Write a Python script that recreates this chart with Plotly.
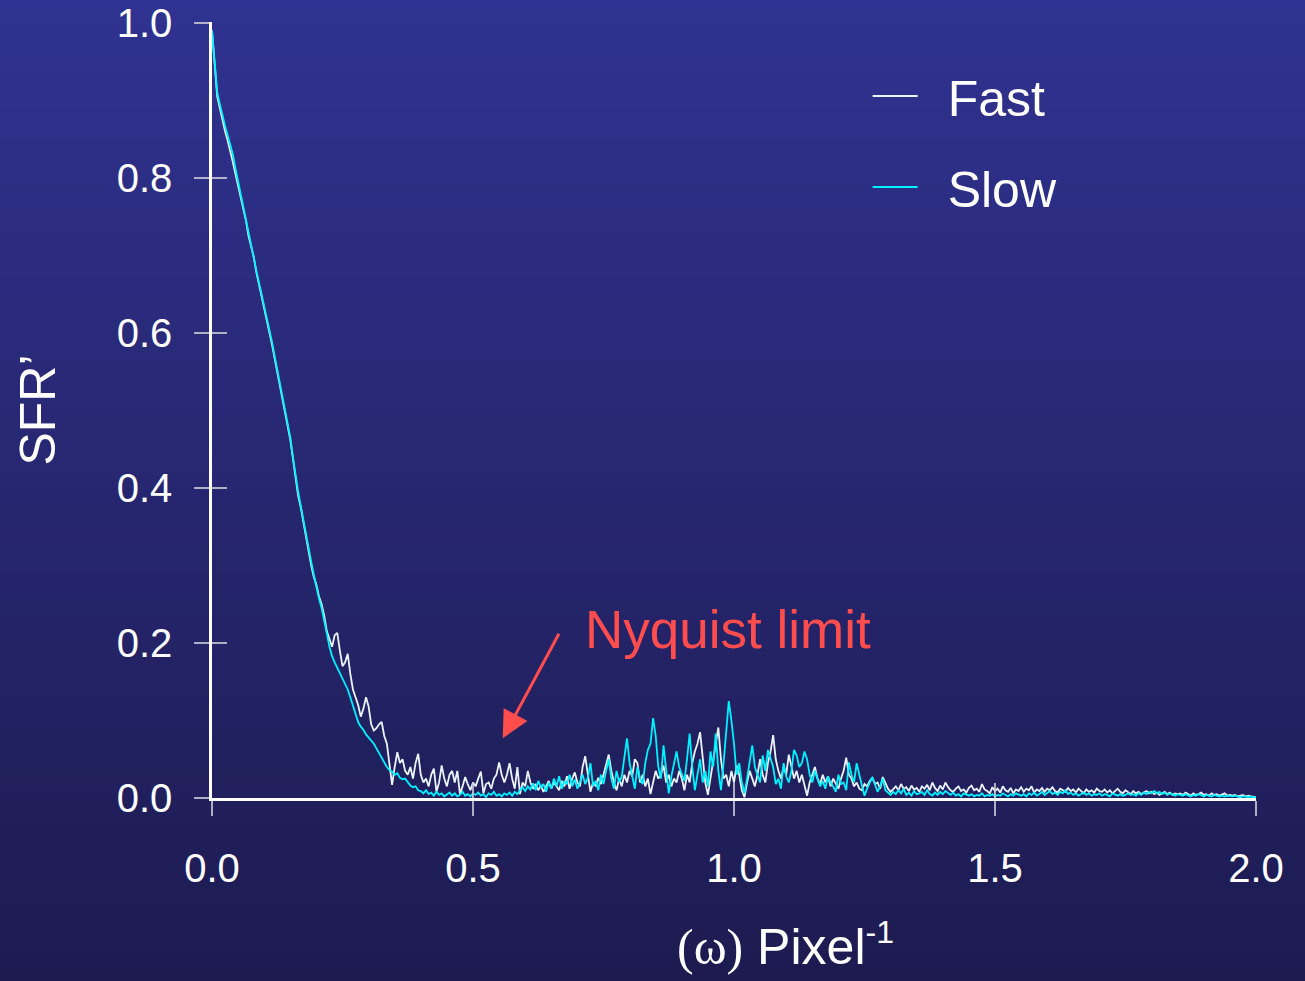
import plotly.graph_objects as go

# ---------------- data ----------------
FREQ_STEP = 0.005  # sampling step of the SFR curves, pixel^-1

series_names = ["Fast", "Slow"]

fast = [
    .99, .945, .905, .89, .873, .86, .848, .835, .82, .805,
    .79, .775, .762, .745, .725, .712, .698, .678, .663, .648,
    .633, .618, .6, .585, .567, .55, .53, .515, .497, .48,
    .462, .438, .413, .39, .375, .355, .335, .318, .3, .285,
    .275, .26, .25, .235, .215, .205, .195, .21, .213, .19,
    .17, .175, .186, .16, .14, .13, .12, .105, .115, .13,
    .118, .095, .087, .09, .095, .098, .08, .07, .045, .017,
    .04, .059, .045, .05, .035, .03, .04, .025, .045, .057,
    .03, .02, .025, .015, .03, .038, .008, .02, .042, .025,
    .015, .03, .035, .02, .035, .005, .015, .027, .018, .01,
    .02, .015, .025, .034, .006, .018, .02, .012, .025, .03,
    .046, .03, .02, .03, .045, .025, .012, .04, .005, .02,
    .015, .035, .02, .012, .018, .01, .016, .008, .015, .022,
    .012, .02, .015, .01, .022, .015, .028, .012, .025, .033,
    .02, .015, .04, .054, .03, .008, .02, .015, .026, .018,
    .03, .045, .056, .035, .02, .01, .025, .015, .03, .02,
    .035, .028, .05, .045, .02, .03, .015, .025, .005, .02,
    .035, .025, .03, .042, .02, .03, .015, .025, .02, .035,
    .025, .01, .03, .02, .045, .06, .07, .085, .05, .02,
    .004, .025, .045, .07, .091, .05, .025, .03, .015, .035,
    .02, .042, .03, .01, .001, .02, .035, .025, .015, .03,
    .05, .03, .02, .045, .06, .081, .05, .035, .025, .04,
    .03, .056, .04, .025, .035, .02, .03, .015, .003, .02,
    .03, .04, .025, .018, .03, .02, .028, .015, .025, .018,
    .012, .025, .035, .052, .03, .025, .015, .02, .012, .01,
    .018, .015, .022, .026, .018, .02, .012, .027, .02, .012,
    .008, .012, .015, .01, .018, .012, .014, .009, .016, .011,
    .013, .008, .015, .012, .017, .01, .02, .013, .009, .016,
    .011, .02, .014, .01, .008, .012, .015, .009, .011, .007,
    .013, .016, .01, .012, .008, .018, .011, .009, .006, .014,
    .009, .012, .007, .015, .01, .008, .013, .006, .011, .009,
    .014, .008, .012, .01, .015, .007, .011, .009, .013, .008,
    .012, .01, .014, .009, .007, .012, .01, .008, .013, .009,
    .011, .007, .012, .009, .006, .011, .008, .01, .007, .012,
    .009, .008, .011, .007, .01, .006, .009, .012, .008, .006,
    .01, .007, .005, .009, .006, .008, .005, .007, .009, .006,
    .008, .005, .007, .004, .006, .008, .005, .007, .004, .006,
    .005, .006, .004, .007, .005, .003, .006, .004, .005, .007,
    .004, .005, .003, .006, .004, .005, .003, .004, .006, .003,
    .004, .003, .004, .002, .003, .004, .002, .003, .002, .001,
    .001,
]

slow = [
    .99, .95, .91, .895, .88, .867, .855, .843, .83, .812,
    .795, .778, .762, .745, .727, .71, .697, .68, .665, .65,
    .635, .62, .605, .588, .57, .553, .535, .518, .50, .482,
    .465, .44, .415, .395, .377, .358, .34, .322, .305, .288,
    .27, .257, .245, .23, .212, .195, .183, .175, .168, .16,
    .153, .147, .14, .13, .12, .108, .098, .092, .088, .082,
    .078, .075, .07, .064, .058, .052, .045, .04, .036, .034,
    .03, .032, .026, .024, .025, .02, .016, .014, .015, .01,
    .009, .006, .01, .005, .007, .003, .008, .004, .006, .002,
    .005, .007, .003, .006, .002, .004, .008, .003, .005, .002,
    .006, .004, .007, .003, .005, .001, .006, .004, .008, .003,
    .005, .002, .006, .004, .007, .003, .008, .005, .01, .014,
    .009, .015, .011, .019, .01, .022, .014, .018, .008, .02,
    .012, .025, .015, .028, .012, .022, .018, .03, .015, .024,
    .012, .02, .03, .018, .026, .045, .015, .022, .01, .03,
    .018, .035, .05, .025, .012, .035, .02, .028, .055, .077,
    .045, .03, .012, .04, .025, .018, .045, .062, .07, .103,
    .08, .04, .025, .068, .035, .006, .028, .045, .06, .04,
    .03, .022, .05, .083, .04, .01, .03, .05, .02, .035,
    .015, .06, .04, .083, .035, .01, .045, .09, .125, .1,
    .07, .03, .045, .02, .006, .025, .05, .068, .04, .03,
    .02, .055, .035, .062, .05, .04, .018, .025, .012, .045,
    .028, .02, .035, .062, .055, .04, .045, .06, .05, .03,
    .02, .035, .025, .015, .022, .012, .028, .02, .015, .008,
    .03, .018, .02, .01, .046, .03, .02, .045, .03, .015,
    .003, .012, .02, .027, .018, .008, .015, .025, .01, .007,
    .004, .008, .005, .01, .006, .012, .004, .007, .003, .009,
    .005, .006, .008, .004, .01, .005, .003, .007, .004, .008,
    .005, .009, .006, .004, .007, .003, .005, .002, .006, .004,
    .003, .005, .002, .004, .003, .006, .002, .004, .003, .005,
    .002, .004, .003, .006, .004, .002, .005, .003, .006, .004,
    .003, .005, .002, .006, .004, .007, .003, .005, .008, .004,
    .006, .009, .005, .007, .004, .008, .006, .01, .005, .007,
    .004, .006, .003, .005, .007, .004, .006, .003, .005, .004,
    .006, .003, .005, .004, .002, .006, .004, .003, .005, .003,
    .004, .006, .004, .005, .003, .006, .004, .007, .005, .008,
    .006, .009, .006, .008, .005, .007, .004, .006, .005, .003,
    .005, .004, .003, .005, .004, .002, .004, .003, .005, .003,
    .002, .004, .003, .002, .004, .003, .002, .003, .002, .003,
    .002, .002, .003, .002, .001, .002, .002, .001, .002, .001,
    .001,
]

x_tick_vals = [0.0, 0.5, 1.0, 1.5, 2.0]
x_tick_text = ["0.0", "0.5", "1.0", "1.5", "2.0"]
y_tick_vals = [0.0, 0.2, 0.4, 0.6, 0.8, 1.0]
y_tick_text = ["0.0", "0.2", "0.4", "0.6", "0.8", "1.0"]

x_title = ("<span style='font-family:Liberation Serif, Times New Roman, serif'>(ω)</span>"
           " Pixel<sup><span style='font-size:32px'>-1</span></sup>")
y_title = "SFR’"
note_text = "Nyquist limit"
note_pos = (0.711, 0.218)     # where the note text starts (data units)
arrow_tip = (0.557, 0.077)    # where the arrow points (data units)

# ---------------- styling ----------------
FONT = "Liberation Sans, Arial, sans-serif"
WHITE_LINE = "#eaf4ff"
CYAN_LINE = "#00f2ff"
RED = "#ff4d4d"
TICK_COLOR = "rgba(200,200,215,0.85)"

W, H = 1305, 981
ML, MR, MT, MB = 212, 49, 22, 183
Y_TOP = 1.001

freq = [round(i * FREQ_STEP, 3) for i in range(len(slow))]
freq_fast = [round(i * FREQ_STEP, 3) for i in range(len(fast))]

fig = go.Figure()
fig.add_trace(go.Scatter(
    x=freq_fast, y=fast, mode="lines", name="\u2002" + series_names[0],
    line=dict(color=WHITE_LINE, width=1.8), legendgroup="a",
))
fig.add_trace(go.Scatter(
    x=freq, y=slow, mode="lines", name="\u2002" + series_names[1],
    line=dict(color=CYAN_LINE, width=1.8), legendgroup="b",
))
# carrier for the inner half of the crossing ticks
fig.add_trace(go.Scatter(x=[], y=[], xaxis="x2", yaxis="y2",
                         showlegend=False, hoverinfo="skip"))

# vertical background gradient built from thin bands (paper coordinates)
plot_h = H - MT - MB
plot_w = W - ML - MR
top_p = (H - MB) / plot_h
bot_p = -MB / plot_h
left_p = -ML / plot_w - 0.05
right_p = 1 + MR / plot_w + 0.05
top_rgb = (48, 50, 145)
bot_rgb = (29, 27, 80)
N = 70
shapes = []
step = (top_p - bot_p) / N
for i in range(N):
    f = (i + 0.5) / N
    c = tuple(round(top_rgb[k] + (bot_rgb[k] - top_rgb[k]) * f) for k in range(3))
    y1 = top_p - i * step + 0.002
    y0 = top_p - (i + 1) * step - 0.002
    shapes.append(dict(type="rect", xref="paper", yref="paper",
                       x0=left_p, x1=right_p, y0=y0, y1=y1,
                       line=dict(width=0), fillcolor="rgb(%d,%d,%d)" % c,
                       layer="below"))

axis_common = dict(showgrid=False, zeroline=False, tickcolor=TICK_COLOR,
                   tickwidth=1.5, ticklen=15)

legend_top_px = 57

fig.update_layout(
    width=W, height=H,
    margin=dict(l=ML, r=MR, t=MT, b=MB, autoexpand=False),
    paper_bgcolor="rgb(38,38,110)",
    plot_bgcolor="rgba(0,0,0,0)",
    font=dict(family=FONT, color="white", size=40),
    shapes=shapes,
    showlegend=True,
    legend=dict(
        x=0.628, y=1 - (legend_top_px - MT) / plot_h, xanchor="left", yanchor="top",
        bgcolor="rgba(0,0,0,0)", font=dict(size=50, color="white", family=FONT),
        traceorder="grouped", tracegroupgap=23, itemwidth=45,
    ),
    xaxis=dict(
        range=[0, 2], tickvals=x_tick_vals, ticktext=x_tick_text,
        ticks="outside", showline=True, linecolor="white", linewidth=2.5,
        tickfont=dict(size=40, color="white", family=FONT),
        ticklabelstandoff=18, ticklabeloverflow="allow", **axis_common,
    ),
    yaxis=dict(
        range=[0, Y_TOP], tickvals=y_tick_vals, ticktext=y_tick_text,
        ticks="outside", showline=True, linecolor="white", linewidth=2.5,
        tickfont=dict(size=40, color="white", family=FONT),
        ticklabelstandoff=14, ticklabeloverflow="allow",
        title=dict(text=y_title, font=dict(size=50, color="white", family=FONT),
                   standoff=46),
        **axis_common,
    ),
    xaxis2=dict(
        range=[0, 2], tickvals=x_tick_vals, overlaying="x", anchor="y",
        side="bottom", ticks="inside", showticklabels=False, showline=False,
        **axis_common,
    ),
    yaxis2=dict(
        range=[0, Y_TOP], tickvals=y_tick_vals, overlaying="y", anchor="x",
        side="left", ticks="inside", showticklabels=False, showline=False,
        **axis_common,
    ),
    annotations=[
        dict(text=x_title, xref="paper", yref="paper",
             x=(785 - ML) / plot_w, y=-(944 - (H - MB)) / plot_h,
             xanchor="center", yanchor="middle", showarrow=False,
             font=dict(size=50, color="white", family=FONT)),
        dict(text=note_text, xref="x", yref="y", x=note_pos[0], y=note_pos[1],
             xanchor="left", yanchor="middle", showarrow=False,
             font=dict(size=53, color=RED, family=FONT)),
        dict(text="", xref="x", yref="y", x=arrow_tip[0], y=arrow_tip[1],
             ax=57, ay=-106, showarrow=True, arrowhead=2, arrowsize=1.8,
             arrowwidth=3, arrowcolor=RED, standoff=0),
    ],
)

fig.write_html("out.html", config={"displayModeBar": False},
               post_script="document.body.style.margin='0';document.body.style.overflow='hidden';")
